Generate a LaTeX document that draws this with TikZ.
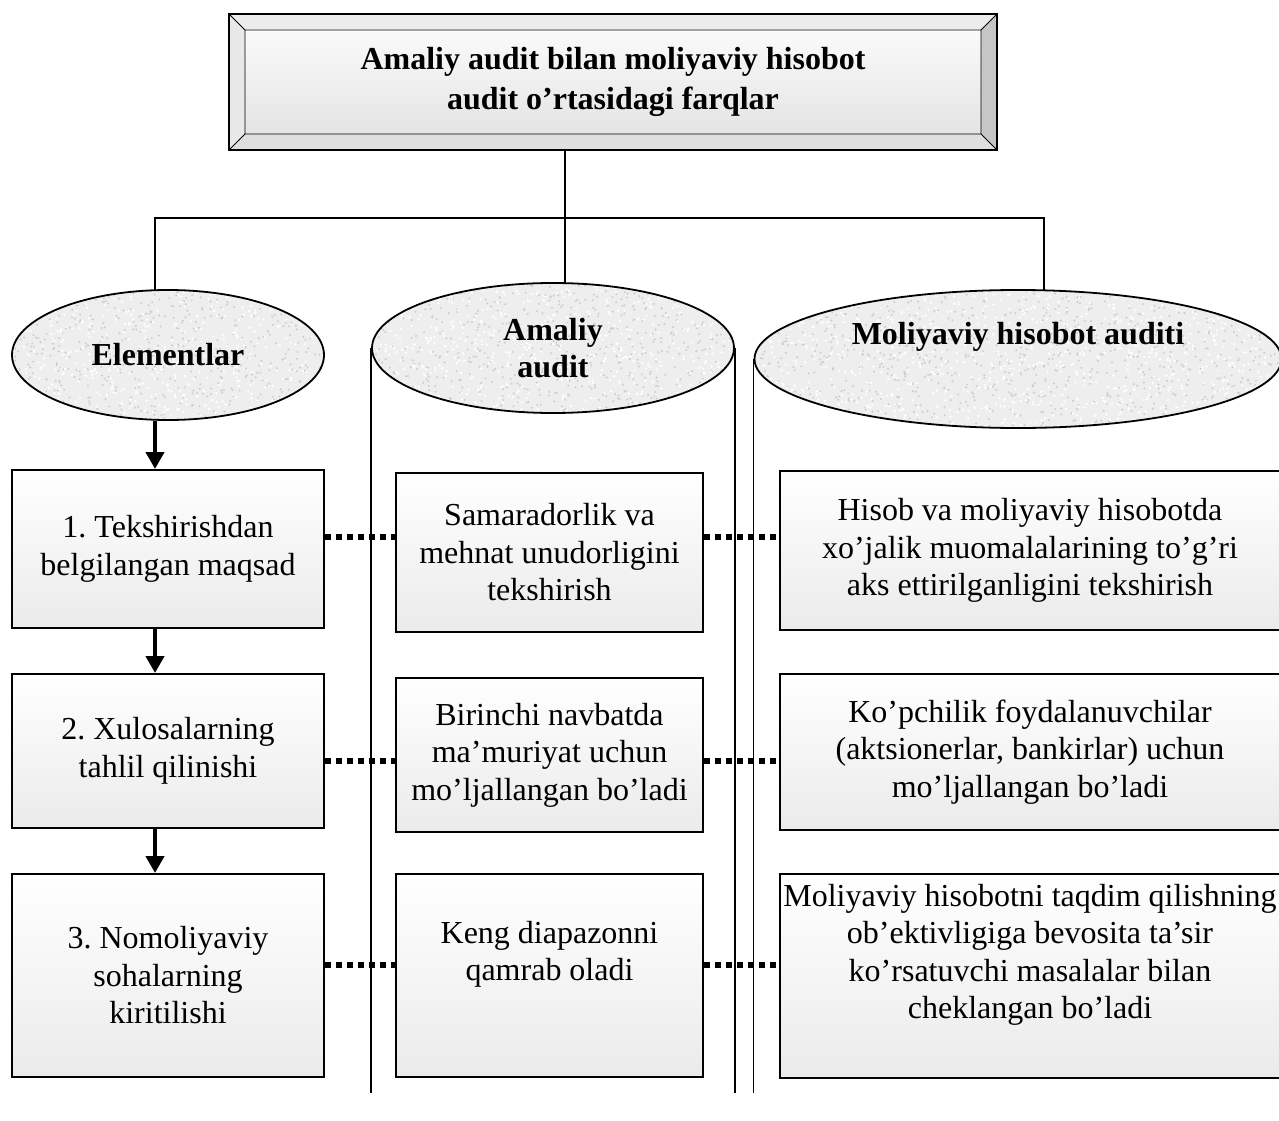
\documentclass[tikz,border=0pt]{standalone}
\usepackage{fontspec}
\setmainfont{Liberation Serif}
\usetikzlibrary{shapes.geometric,arrows.meta,calc}
\frenchspacing

% granite-like speckle inside the current path picture
\newcommand\speckle{%
  \pgfpointanchor{path picture bounding box}{south west}\pgfgetlastxy\gxa\gya
  \pgfpointanchor{path picture bounding box}{north east}\pgfgetlastxy\gxb\gyb
  \pgfmathtruncatemacro\gn{((\gxb-\gxa)/40)*(\gyb-\gya)}%
  \foreach \k in {1,...,\gn}{%
    \pgfmathsetmacro\gx{\gxa+rnd*(\gxb-\gxa)}%
    \pgfmathsetmacro\gy{\gya+rnd*(\gyb-\gya)}%
    \pgfmathsetmacro\gs{rnd}%
    \ifdim\gs pt<0.5pt
      \fill[gray!40] (\gx pt,\gy pt) circle (1.1pt);
    \else
      \fill[white] (\gx pt,\gy pt) circle (1.3pt);
    \fi}}

\begin{document}
\begin{tikzpicture}[x=1pt,y=-1pt,
  every node/.style={font=\fontsize{32}{37.5}\selectfont},
  conn/.style={line width=1.6pt},
  flowarrow/.style={line width=4.5pt,-{Triangle[length=17pt,width=18pt]}},
  dotline/.style={line width=5.5pt,dash pattern=on 6pt off 5pt},
  cell/.style={rectangle,draw,line width=2pt,top color=white,bottom color=gray!16,
    align=center,inner sep=0pt},
  head/.style={ellipse,draw,line width=1.8pt,inner sep=0pt,fill=gray!13,
    font=\fontsize{32}{37.5}\selectfont\bfseries,align=center,
    path picture={\speckle}},
  bevelbox/.style={rectangle,draw,line width=2pt,inner sep=0pt,align=center,
    font=\fontsize{32}{40}\selectfont\bfseries,
    path picture={
      \coordinate (A) at (path picture bounding box.north west);
      \coordinate (B) at (path picture bounding box.north east);
      \coordinate (C) at (path picture bounding box.south east);
      \coordinate (D) at (path picture bounding box.south west);
      \coordinate (a) at ([shift={(16pt,-16pt)}]A);
      \coordinate (b) at ([shift={(-16pt,-16pt)}]B);
      \coordinate (c) at ([shift={(-16pt,16pt)}]C);
      \coordinate (d) at ([shift={(16pt,16pt)}]D);
      \fill[gray!15] (A) -- (B) -- (b) -- (a) -- cycle;
      \fill[gray!45] (B) -- (C) -- (c) -- (b) -- cycle;
      \fill[gray!25] (C) -- (D) -- (d) -- (c) -- cycle;
      \fill[gray!18] (D) -- (A) -- (a) -- (d) -- cycle;
      \shade[top color=gray!4,bottom color=gray!21] (a) rectangle (c);
      \draw[line width=0.8pt] (a) rectangle (c)
        (A) -- (a) (B) -- (b) (C) -- (c) (D) -- (d);
    }},
]
\pgfmathsetseed{7}
\useasboundingbox (0,0) rectangle (1279,1121);

% junctions of the top tree and the open ends of the column walls
\coordinate (jL) at (155,218);
\coordinate (jM) at (565,218);
\coordinate (jR) at (1044,218);
\coordinate (base) at (0,1093);

% title
\node[bevelbox,minimum width=768pt,minimum height=136pt] (title) at (613,82)
  {Amaliy audit bilan moliyaviy hisobot\\audit o’rtasidagi farqlar};

% column heads
\coordinate (e1c) at (168,355);
\coordinate (e2c) at (553,348);
\coordinate (e3c) at (1018,359);

% tree connectors
\draw[conn] (title.south -| jM) -- (jM);
\draw[conn] (jL |- 0,292) -- (jL) -- (jR) -- (jR |- 0,292);
\draw[conn] (jM) -- (jM |- 0,285);

\node[head,minimum width=312pt,minimum height=130pt] (e1) at (e1c) {Elementlar};
\node[head,minimum width=362pt,minimum height=130pt] (e2) at (e2c) {Amaliy\\audit};
\node[head,minimum width=527pt,minimum height=138pt,
  label={[font=\fontsize{32}{37.5}\selectfont\bfseries,yshift=22pt]center:Moliyaviy hisobot auditi}]
  (e3) at (e3c) {};

% column walls
\draw[conn] (e2.west) -- (e2.west |- base);
\draw[conn] (e2.east) -- (e2.east |- base);
\draw[conn] (e3.west) -- (e3.west |- base);
\draw[conn] (e3.east) -- (e3.east |- base);

% left column
\node[cell,minimum width=312pt,minimum height=158pt] (b1) at (168,549)
  {1. Tekshirishdan\\belgilangan maqsad};
\node[cell,minimum width=312pt,minimum height=154pt] (b2) at (168,751)
  {2. Xulosalarning\\tahlil qilinishi};
\node[cell,minimum width=312pt,minimum height=203pt] (b3) at (168,975.5)
  {3. Nomoliyaviy\\sohalarning\\kiritilishi};

% middle column
\node[cell,minimum width=307pt,minimum height=159pt] (m1) at (549.5,552.5)
  {Samaradorlik va\\mehnat unudorligini\\tekshirish};
\node[cell,minimum width=307pt,minimum height=154pt] (m2) at (549.5,755)
  {Birinchi navbatda\\ma’muriyat uchun\\mo’ljallangan bo’ladi};
\node[cell,minimum width=307pt,minimum height=203pt] (m3) at (549.5,975.5)
  {Keng diapazonni\\qamrab oladi\\\strut};

% right column
\node[cell,minimum width=500pt,minimum height=159pt] (r1) at (1030,550.5)
  {Hisob va moliyaviy hisobotda\\xo’jalik muomalalarining to’g’ri\\aks ettirilganligini tekshirish};
\node[cell,minimum width=500pt,minimum height=156pt] (r2) at (1030,752)
  {Ko’pchilik foydalanuvchilar\\(aktsionerlar, bankirlar) uchun\\mo’ljallangan bo’ladi};
\node[cell,minimum width=500pt,minimum height=204pt] (r3) at (1030,976)
  {Moliyaviy hisobotni taqdim qilishning\\ob’ektivligiga bevosita ta’sir\\ko’rsatuvchi masalalar bilan\\cheklangan bo’ladi\\\strut};

% flow arrows
\draw[flowarrow] ([xshift=-13pt]e1.south) -- ([xshift=-13pt]b1.north);
\draw[flowarrow] ([xshift=-13pt]b1.south) -- ([xshift=-13pt]b2.north);
\draw[flowarrow] ([xshift=-13pt]b2.south) -- ([xshift=-13pt]b3.north);

% dotted links between the columns
\coordinate (d1) at ([yshift=12pt]b1.east);
\coordinate (d2) at ([yshift=15.5pt]m1.east);
\coordinate (d3) at ([yshift=-10pt]b2.east);
\coordinate (d4) at ([yshift=-6pt]m2.east);
\coordinate (d5) at ([yshift=10.5pt]b3.east);
\coordinate (d6) at ([yshift=10.5pt]m3.east);
\draw[dotline] (d1) -- (d1 -| m1.west);
\draw[dotline] (d2) -- (d2 -| r1.west);
\draw[dotline] (d3) -- (d3 -| m2.west);
\draw[dotline] (d4) -- (d4 -| r2.west);
\draw[dotline] (d5) -- (d5 -| m3.west);
\draw[dotline] (d6) -- (d6 -| r3.west);
\end{tikzpicture}
\end{document}
